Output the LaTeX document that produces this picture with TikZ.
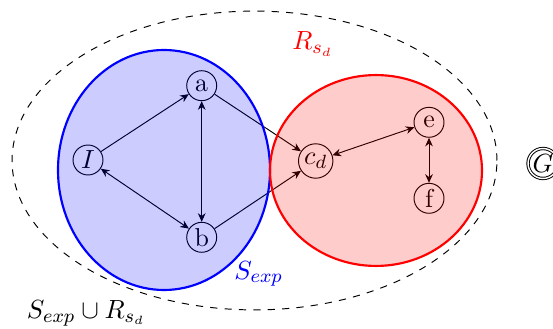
\documentclass[tikz,border=0pt]{standalone}
\usetikzlibrary{arrows.meta}
\begin{document}
\begin{tikzpicture}[x=0.417pt,y=-0.417pt,
  every node/.style={font=\fontsize{10.8}{13}\selectfont},
  vtx/.style={circle,draw,inner sep=1pt,minimum size=12.5pt},
  lbl/.style={inner sep=0pt,anchor=base west},
  edge/.style={-{Stealth[length=3.6pt,width=3.2pt]}},
  bedge/.style={{Stealth[length=3.6pt,width=3.2pt]}-{Stealth[length=3.6pt,width=3.2pt]}},
  region/.style={line width=0.9pt,fill opacity=0.2}]
\useasboundingbox (0,0) rectangle (553,329);
\node[vtx] (I) at (88,160) {$I$};
\node[vtx] (a) at (201.7,85.7) {a};
\node[vtx] (b) at (201.7,237.3) {b};
\node[vtx] (cd) at (315.7,161) {$c_d$};
\node[vtx] (e) at (429,122.3) {e};
\node[vtx] (f) at (429,198.3) {f};
\node[vtx,double,inner sep=0.3pt] (G) at (543,163.5) {$G$};
\draw[edge] (I) -- (a);
\draw[bedge] (I) -- (b);
\draw[bedge] (a) -- (b);
\draw[edge] (a) -- (cd);
\draw[edge] (b) -- (cd);
\draw[bedge] (cd) -- (e);
\draw[bedge] (e) -- (f);
\draw[region,draw=blue,fill=blue] (164,170) ellipse [x radius=44.2pt, y radius=50.04pt];
\draw[region,draw=red,fill=red] (376,170.5) ellipse [x radius=44.2pt, y radius=39.8pt];
\draw[dashed] (254.5,160.5) ellipse [x radius=101.1pt, y radius=62.3pt];
\node[lbl,text=red] (lR) at (292,50) {$R_{s_d}$};
\node[lbl,text=blue] (lS) at (234,279) {$S_{exp}$};
\node[lbl] (lU) at (26.5,318.5) {$S_{exp}\cup R_{s_d}$};
\end{tikzpicture}
\end{document}
